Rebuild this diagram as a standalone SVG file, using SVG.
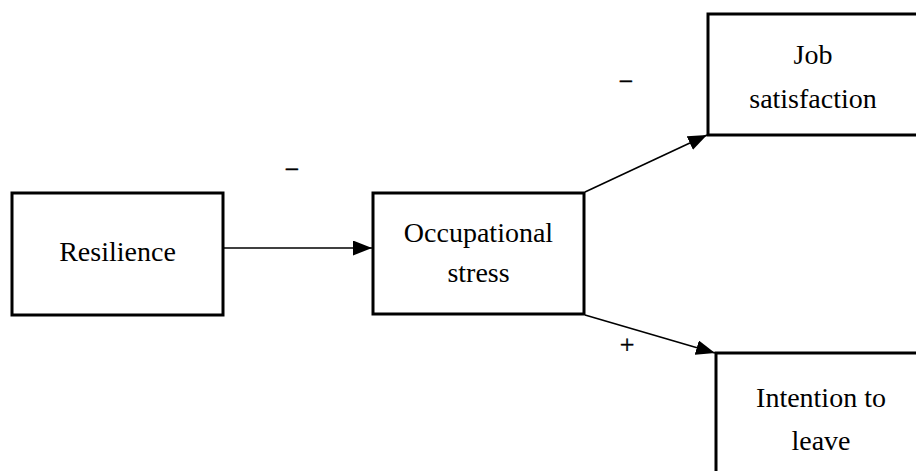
<svg xmlns="http://www.w3.org/2000/svg" width="916" height="471" viewBox="0 0 916 471">
<style>
.box{fill:#fff;stroke:#000;stroke-width:3}
.lbl{font-family:"Liberation Serif","Times New Roman",serif;font-size:28px;fill:#000;text-anchor:middle}
.sign{font-family:"Liberation Serif","Times New Roman",serif;font-size:26px;fill:#000;stroke:#000;stroke-width:0.4;text-anchor:middle}
.edge{stroke:#000;stroke-width:1.6;fill:none}
</style>
<defs>
<marker id="arr" markerWidth="19" markerHeight="15" refX="19" refY="7.5" orient="auto" markerUnits="userSpaceOnUse">
<path d="M0,0 L19,7.5 L0,15 Z" fill="#000"/>
</marker>
</defs>
<rect width="916" height="471" fill="#fff"/>
<g id="connectors">
<line class="edge" x1="223" y1="248" x2="372" y2="248" marker-end="url(#arr)"/>
<line class="edge" x1="585" y1="192" x2="707" y2="135" marker-end="url(#arr)"/>
<line class="edge" x1="585" y1="315" x2="715" y2="353" marker-end="url(#arr)"/>
<text class="sign" x="292" y="178">−</text>
<text class="sign" x="626" y="90">−</text>
<text class="sign" x="627" y="353">+</text>
</g>
<g id="resilience">
<rect class="box" x="12" y="193" width="211" height="122"/>
<text class="lbl" x="117.5" y="261">Resilience</text>
</g>
<g id="occupational-stress">
<rect class="box" x="373" y="193" width="211" height="121"/>
<text class="lbl" x="478.5" y="242">Occupational</text>
<text class="lbl" x="478.5" y="282">stress</text>
</g>
<g id="job-satisfaction">
<rect class="box" x="708" y="14" width="230" height="121"/>
<text class="lbl" x="813" y="64">Job</text>
<text class="lbl" x="813" y="108">satisfaction</text>
</g>
<g id="intention-to-leave">
<rect class="box" x="716" y="353" width="230" height="140"/>
<text class="lbl" x="821" y="407">Intention to</text>
<text class="lbl" x="821" y="450">leave</text>
</g>
</svg>
